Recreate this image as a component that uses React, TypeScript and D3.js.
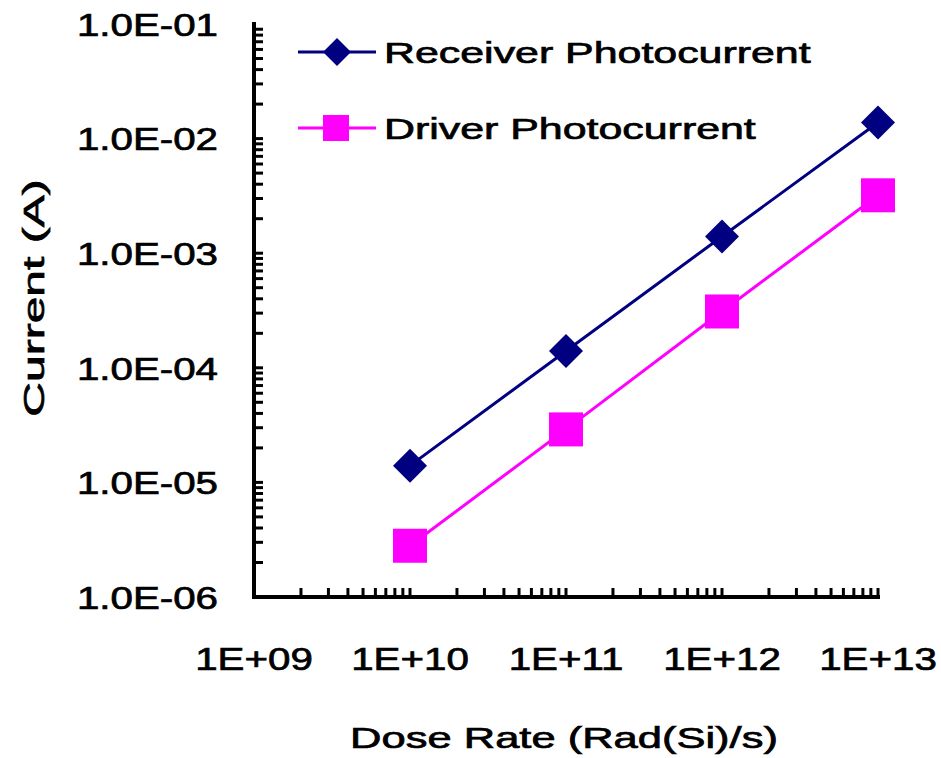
import React from "react";
import * as d3 from "d3";

const doseRates = [1e10, 1e11, 1e12, 1e13];
const receiverCurrent = [1.4e-5, 1.4e-4, 1.4e-3, 1.38e-2];
const driverCurrent = [2.8e-6, 2.9e-5, 3.1e-4, 3.2e-3];
const xTickLabels = ["1E+09", "1E+10", "1E+11", "1E+12", "1E+13"];
const yTickLabels = ["1.0E-06", "1.0E-05", "1.0E-04", "1.0E-03", "1.0E-02", "1.0E-01"];

const W = 941;
const H = 758;
const FONT = "'Liberation Sans', Arial, sans-serif";

export default function App() {
  const x = d3.scaleLog().domain([1e9, 1e13]).range([254, 878]);
  const y = d3.scaleLog().domain([1e-6, 1e-1]).range([597, 24]);

  const line = d3
    .line<[number, number]>()
    .x((d) => x(d[0]))
    .y((d) => y(d[1]));

  const recPts = doseRates.map((d, i) => [d, receiverCurrent[i]] as [number, number]);
  const drvPts = doseRates.map((d, i) => [d, driverCurrent[i]] as [number, number]);

  const xMinor = x.ticks().filter((t) => t > 1e9);
  const yMinor = y.ticks().filter((t) => t > 1e-6 && t < 1e-1);

  const diamond = (cx: number, cy: number, r: number) =>
    `M${cx},${cy - r}L${cx + r},${cy}L${cx},${cy + r}L${cx - r},${cy}Z`;

  // text stretched horizontally like the original bitmap
  const txt = (s: string, tx: number, ty: number, anchor: string, sx: number, size = 31, rot = 0) => (
    <text
      key={s + tx + ty}
      transform={`translate(${tx},${ty}) rotate(${rot}) scale(${sx},1)`}
      textAnchor={anchor}
      dominantBaseline="central"
      fontSize={size}
      fontFamily={FONT}
      fill="#000"
      stroke="#000"
      strokeWidth={0.7}
    >
      {s}
    </text>
  );

  return (
    <svg width={W} height={H} style={{ position: "absolute", left: 0, top: 0, background: "#fff" }}>
      <rect width={W} height={H} fill="#fff" />
      {/* axes */}
      <path d={`M${x(1e9)},${y(1e-1) - 2}V${y(1e-6)}H${x(1e13) + 2}`} fill="none" stroke="#000" strokeWidth={4} />
      {yMinor.map((t, i) => (
        <line key={`ym${i}`} x1={x(1e9)} x2={x(1e9) + 9} y1={y(t)} y2={y(t)} stroke="#000" strokeWidth={3} />
      ))}
      {xMinor.map((t, i) => (
        <line key={`xm${i}`} x1={x(t)} x2={x(t)} y1={y(1e-6)} y2={y(1e-6) - 9} stroke="#000" strokeWidth={3} />
      ))}
      {/* tick labels */}
      {yTickLabels.map((s, i) => txt(s, 218, y(Math.pow(10, -6 + i)) + 1, "end", 1.3))}
      {xTickLabels.map((s, i) => txt(s, x(Math.pow(10, 9 + i)), 659, "middle", 1.3))}
      {/* axis titles */}
      {txt("Dose Rate (Rad(Si)/s)", 564, 738, "middle", 1.45, 30)}
      {txt("Current (A)", 34, 298, "middle", 1.6, 30, -90)}
      {/* series */}
      <path d={line(recPts) || ""} fill="none" stroke="#000080" strokeWidth={3} />
      <path d={line(drvPts) || ""} fill="none" stroke="#FF00FF" strokeWidth={3} />
      {recPts.map((d, i) => (
        <path key={`r${i}`} d={diamond(x(d[0]), y(d[1]), 17)} fill="#000080" />
      ))}
      {drvPts.map((d, i) => (
        <rect key={`d${i}`} x={x(d[0]) - 17} y={y(d[1]) - 17} width={34} height={34} fill="#FF00FF" />
      ))}
      {/* legend */}
      <line x1={298} x2={376} y1={52} y2={52} stroke="#000080" strokeWidth={3} />
      <path d={diamond(337, 52, 14)} fill="#000080" />
      <line x1={298} x2={376} y1={128} y2={128} stroke="#FF00FF" strokeWidth={3} />
      <rect x={323} y={115} width={26} height={26} fill="#FF00FF" />
      {txt("Receiver Photocurrent", 384, 52, "start", 1.43, 30)}
      {txt("Driver Photocurrent", 384, 128, "start", 1.43, 30)}
    </svg>
  );
}
